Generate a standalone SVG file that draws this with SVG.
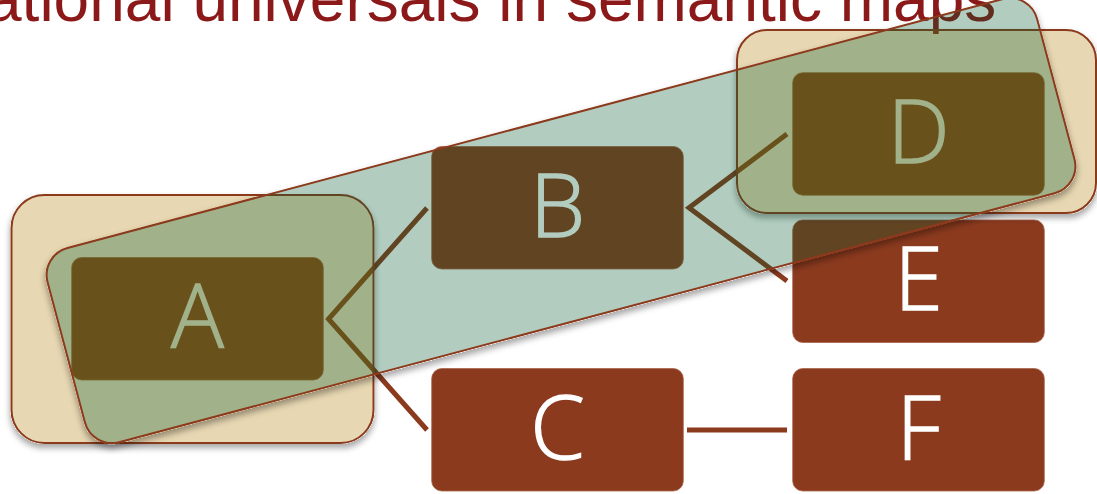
<svg xmlns="http://www.w3.org/2000/svg" width="1097" height="494" viewBox="0 0 1097 494">
  <style>
    .title { font-family: "Liberation Sans", Arial, sans-serif; font-size: 64px; fill: #8C1919; }
    .node { fill: #8B3A1E; stroke: #A8644A; stroke-width: 0.8; }
    .lbl { font-family: "Open Sans", "Noto Sans", "DejaVu Sans", sans-serif; font-weight: 300; font-size: 88px; fill: #FFFFFF; stroke: #FFFFFF; stroke-width: 1.3; text-anchor: middle; }
    .edge { fill: none; stroke: #8B3A1E; stroke-width: 5; stroke-linejoin: miter; stroke-linecap: butt; }
    .beige { fill: #B17C00; fill-opacity: 0.3; stroke: #8B3A1E; stroke-width: 2; }
    .green { fill: #005A28; fill-opacity: 0.3; stroke: #8B3A1E; stroke-width: 2; }
  </style>
  <defs>
    <filter id="sh" x="-10%" y="-10%" width="120%" height="130%">
      <feComponentTransfer in="SourceAlpha" result="a"><feFuncA type="linear" slope="20"/></feComponentTransfer>
      <feGaussianBlur in="a" stdDeviation="3" result="b"/>
      <feOffset in="b" dx="0" dy="4" result="o"/>
      <feFlood flood-color="#000000" flood-opacity="0.35"/>
      <feComposite in2="o" operator="in" result="s"/>
      <feComposite in="s" in2="a" operator="out" result="s2"/>
      <feMerge><feMergeNode in="s2"/><feMergeNode in="SourceGraphic"/></feMerge>
    </filter>
  </defs>

  <text class="title" x="-14" y="20.5">ational universals in semantic maps</text>

  <g id="connectors">
    <path class="edge" d="M427,208 L328.5,319 L427,430"/>
    <path class="edge" d="M787,134 L689,207.7 L787,281"/>
    <path class="edge" d="M687,430 L787,430"/>
  </g>

  <g id="node-A">
    <rect class="node" x="71.7" y="257.5" width="251.6" height="122.5" rx="10"/>
    <text class="lbl" x="197.5" y="347">A</text>
  </g>
  <g id="node-B">
    <rect class="node" x="431.7" y="146.5" width="251.6" height="122.5" rx="10"/>
    <text class="lbl" x="557.5" y="236.5">B</text>
  </g>
  <g id="node-C">
    <rect class="node" x="431.7" y="368.5" width="251.6" height="122.5" rx="10"/>
    <text class="lbl" x="557.5" y="458.5">C</text>
  </g>
  <g id="node-D">
    <rect class="node" x="792.7" y="72.7" width="251.6" height="122.5" rx="10"/>
    <text class="lbl" x="918.5" y="162.5">D</text>
  </g>
  <g id="node-E">
    <rect class="node" x="792.7" y="220" width="251.6" height="122.5" rx="10"/>
    <text class="lbl" x="918.5" y="310">E</text>
  </g>
  <g id="node-F">
    <rect class="node" x="792.7" y="368.5" width="251.6" height="122.5" rx="10"/>
    <text class="lbl" x="918.5" y="458.5">F</text>
  </g>

  <g id="region-A" filter="url(#sh)">
    <rect class="beige" x="11.5" y="195" width="362" height="248" rx="33"/>
  </g>
  <g id="region-D" filter="url(#sh)">
    <rect class="beige" x="737" y="30" width="359" height="183" rx="30"/>
  </g>
  <g id="region-band" filter="url(#sh)">
    <rect class="green" x="-512" y="-100.5" width="1024" height="201" rx="28" transform="translate(561,220.6) rotate(-14.9)"/>
  </g>
</svg>
